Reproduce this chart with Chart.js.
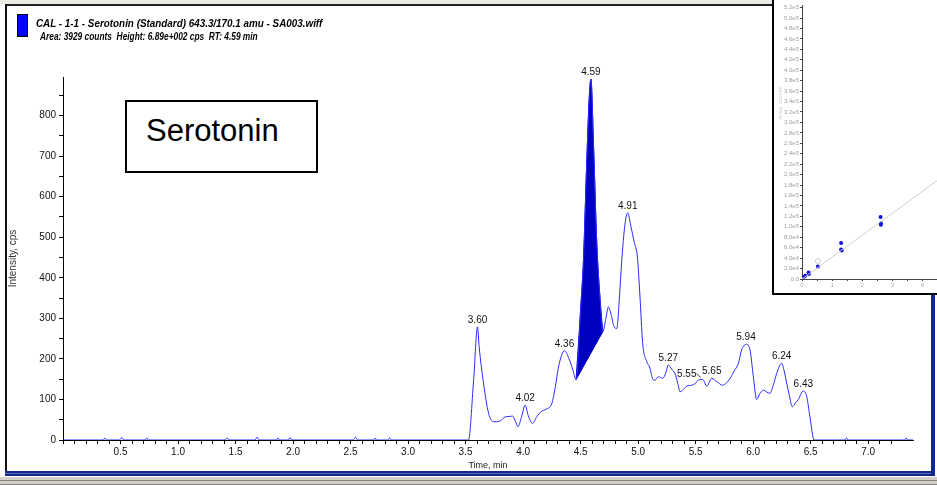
<!DOCTYPE html>
<html>
<head>
<meta charset="utf-8">
<script src="https://cdn.jsdelivr.net/npm/chart.js@4.4.1/dist/chart.umd.min.js"></script>
<style>
html, body { margin: 0; padding: 0; background: #fff; }
#page { position: relative; width: 937px; height: 485px; overflow: hidden; background: #fff; font-family: Arial, 'Liberation Sans', sans-serif; }
.abs { position: absolute; }
#topStrip { left: 0; top: 0; width: 772px; height: 4px; background: #ecebe3; }
#topLine { left: 5px; top: 4px; width: 767px; height: 2px; background: #222; }
#leftLine { left: 5px; top: 4px; width: 2px; height: 472px; background: #111; }
#bottomNavy { left: 5px; top: 471px; width: 930px; height: 5px; background: #14288a; }
#bottomNavy2 { left: 5px; top: 473px; width: 930px; height: 1px; background: #5a6cc0; }
#rightNavy { left: 931px; top: 295px; width: 4px; height: 181px; background: #14288a; }
#bottomGray { left: 0; top: 476px; width: 937px; height: 9px; background: linear-gradient(#ffffff 0 1px, #d4d0c8 1px 4px, #808080 4px 5px, #d4d0c8 5px 8px, #808080 8px); }
#mainCanvas { left: 0; top: 0; }
#legendBox { left: 17px; top: 14px; width: 9px; height: 21px; background: #0000ff; border: 1px solid #000; }
.hdr { left: 36px; font-weight: bold; font-style: italic; font-size: 11px; line-height: 11px; white-space: pre; color: #000; transform-origin: 0 0; }
#sero { left: 125px; top: 100px; width: 193px; height: 73px; border: 2px solid #000; box-sizing: border-box; background: #fff; }
#sero span { position: absolute; left: 19px; top: 13px; font-size: 31px; line-height: 31px; color: #000; }
#inset { left: 772px; top: 0; width: 165px; height: 295px; background: #fff; border-left: 2px solid #000; border-bottom: 2px solid #000; box-sizing: border-box; overflow: hidden; z-index: 5; }
#insetCanvas { left: 0; top: 0; }
#insetTitle { left: -22px; top: 100px; width: 56px; font-size: 6px; color: #cfcfcf; transform: rotate(-90deg); text-align: center; }
</style>
</head>
<body>
<div id="page">
  <div class="abs" id="topStrip"></div>
  <div class="abs" id="topLine"></div>
  <div class="abs" id="leftLine"></div>
  <div class="abs" id="bottomNavy"></div>
  <div class="abs" id="bottomNavy2"></div>
  <div class="abs" id="rightNavy"></div>
  <div class="abs" id="bottomGray"></div>
  <canvas class="abs" id="mainCanvas" width="937" height="485"></canvas>
  <div class="abs" id="legendBox"></div>
  <div class="abs hdr" id="hdr1" style="top:18px">CAL - 1-1 - Serotonin (Standard) 643.3/170.1 amu - SA003.wiff</div>
  <div class="abs hdr" id="hdr2" style="top:31px; left:40px">Area: 3929 counts  Height: 6.89e+002 cps  RT: 4.59 min</div>
  <div class="abs" id="sero"><span>Serotonin</span></div>
  <div class="abs" id="inset">
    <canvas class="abs" id="insetCanvas" width="185" height="293"></canvas>
    <div class="abs" id="insetTitle">Area, counts</div>
  </div>
</div>
<script>
// XIC trace, time in min / intensity in cps
const times = [
  0, 0.35, 0.365, 0.38, 0.49, 0.51, 0.53, 0.715, 0.728, 0.74,
  1.41, 1.428, 1.445, 1.67, 1.687, 1.705, 1.855, 1.869, 1.88, 1.96, 1.973, 1.99,
  2.525, 2.543, 2.56, 2.70, 2.714, 2.725, 2.825, 2.839, 2.855,
  3.525, 3.57, 3.604, 3.618, 3.656, 3.70, 3.743, 3.77, 3.80, 3.845, 3.88, 3.908, 3.935, 3.955, 3.985,
  4.018, 4.045, 4.082, 4.12, 4.157, 4.20, 4.25, 4.28, 4.308, 4.36, 4.40, 4.43, 4.461, 4.50, 4.525,
  4.554, 4.577, 4.59, 4.612, 4.641, 4.67, 4.693, 4.72, 4.742, 4.765, 4.79, 4.815, 4.835, 4.858,
  4.885, 4.91, 4.935, 4.966, 4.994, 5.015, 5.04, 5.076, 5.10, 5.133, 5.15, 5.176, 5.214, 5.24,
  5.263, 5.29, 5.32, 5.345, 5.365, 5.395, 5.423, 5.467, 5.50, 5.524, 5.562, 5.597, 5.64, 5.684,
  5.736, 5.765, 5.793, 5.835, 5.872, 5.90, 5.938, 5.973, 6.002, 6.031, 6.06, 6.089, 6.12, 6.147,
  6.175, 6.205, 6.248, 6.27, 6.292, 6.315, 6.34, 6.365, 6.393, 6.436, 6.466, 6.494, 6.53,
  6.80, 6.812, 6.825, 7.32, 7.331, 7.345, 7.39
];
const intensities = [
  0, 0, 5, 0, 0, 6, 0, 0, 5, 0,
  0, 5, 0, 0, 7, 0, 0, 5, 0, 0, 6, 0,
  0, 7, 0, 0, 5, 0, 0, 5, 0,
  0, 148, 279, 230, 140, 66, 45, 45, 47, 57, 58, 59, 45, 33, 55,
  86, 60, 41, 58, 70, 76, 90, 130, 180, 220, 200, 175, 149, 320, 443,
  690, 854, 890, 731, 484, 345, 267, 300, 328, 310, 280, 275, 340, 443,
  530, 560, 530, 488, 451, 360, 238, 193, 180, 148, 148, 156, 152, 165,
  185, 175, 164, 140, 119, 125, 133, 135, 140, 148, 149, 133, 152, 144,
  135, 140, 149, 170, 189, 222, 236, 222, 156, 100, 115, 123, 118, 115,
  135, 164, 189, 170, 140, 110, 82, 90, 100, 121, 107, 57, 0,
  0, 5, 0, 0, 5, 0, 0
];

// integrated peak (RT 4.59) start / end
const peakStart = 4.461;
const peakEnd = 4.693;

// apex labels
const peakLabels = ['3.60', '4.02', '4.36', '4.59', '4.91', '5.27', '5.55', '5.65', '5.94', '6.24', '6.43'];

// axes
const xMin = 0, xMax = 7.39, xMinorStep = 0.1, xMajorStep = 0.5;
const yMin = 0, yMax = 895, yMinorStep = 50, yMajorStep = 100;

// calibration inset
const calConc = [0.067, 0.11, 0.22, 0.23, 0.53, 1.30, 1.30, 1.32, 2.61, 2.62, 2.62];
const calArea = [4300, 6200, 12500, 9400, 23800, 69000, 56600, 54700, 119000, 107000, 104000];
const excludedConc = [0.53];
const excludedArea = [34500];
const fitConc = [0, 5.05];
const fitArea = [0, 212000];
const calXTicks = [0, 0.5, 1, 1.5, 2, 2.5, 3, 3.5, 4, 4.5, 5];
const calYTicks = [0, 20000, 40000, 60000, 80000, 100000, 120000, 140000, 160000, 180000, 200000, 220000, 240000,
    260000, 280000, 300000, 320000, 340000, 360000, 380000, 400000, 420000, 440000, 460000, 480000, 500000, 520000];

const FONT = "Arial, 'Liberation Sans', sans-serif";

function nearestIndex(t) {
    let best = 0;
    for (let i = 1; i < times.length; i++) {
        if (Math.abs(times[i] - t) < Math.abs(times[best] - t)) best = i;
    }
    return best;
}
function isMultiple(v, step) {
    const r = v / step;
    return Math.abs(r - Math.round(r)) < 1e-6;
}

const trace = times.map((t, i) => ({ x: t, y: intensities[i] }));
const peakArea = trace.filter(p => p.x >= peakStart - 1e-9 && p.x <= peakEnd + 1e-9);
const peakBase = [trace[nearestIndex(peakStart)], trace[nearestIndex(peakEnd)]];

// draws RT labels above each apex
const peakLabelPlugin = {
    id: 'peakLabels',
    afterDatasetsDraw(chart) {
        const { ctx, scales: { x, y } } = chart;
        ctx.save();
        ctx.font = '10px ' + FONT;
        ctx.fillStyle = '#111';
        ctx.textAlign = 'center';
        ctx.textBaseline = 'alphabetic';
        peakLabels.forEach(lbl => {
            const i = nearestIndex(parseFloat(lbl));
            const px = x.getPixelForValue(times[i]);
            const py = y.getPixelForValue(intensities[i]);
            if (lbl === '5.55') {
                // crowded label, pushed left with a short leader
                ctx.fillText(lbl, px - 16, py - 3);
                ctx.strokeStyle = '#333';
                ctx.lineWidth = 1;
                ctx.beginPath();
                ctx.moveTo(px - 6, py - 6);
                ctx.lineTo(px - 2, py - 2);
                ctx.stroke();
            } else {
                ctx.fillText(lbl, px, py - 4);
            }
        });
        ctx.restore();
    }
};

const mainChart = new Chart(document.getElementById('mainCanvas'), {
    type: 'line',
    data: {
        datasets: [
            { data: trace, borderColor: '#2a2aff', borderWidth: 1, fill: false, cubicInterpolationMode: 'monotone' },
            { data: peakArea, borderColor: '#0000c0', borderWidth: 1, backgroundColor: '#0000c0', fill: '+1', cubicInterpolationMode: 'monotone' },
            { data: peakBase, borderColor: '#0000c0', borderWidth: 1, fill: false }
        ]
    },
    options: {
        responsive: false,
        animation: false,
        events: [],
        layout: { padding: { left: 8, right: 24, top: 77, bottom: 10 } },
        elements: { point: { radius: 0 }, line: { tension: 0 } },
        plugins: { legend: { display: false }, tooltip: { enabled: false } },
        scales: {
            x: {
                type: 'linear', min: xMin, max: xMax, z: 1,
                afterFit: s => { s.height = 35; },
                border: { color: '#000', width: 1 },
                grid: {
                    drawOnChartArea: false, tickLength: 4,
                    color: c => (c.tick && isMultiple(c.tick.value, xMinorStep)) ? '#000' : 'rgba(0,0,0,0)'
                },
                ticks: {
                    stepSize: xMinorStep, autoSkip: false, maxRotation: 0, minRotation: 0, padding: 2,
                    color: '#111', font: { size: 10, family: FONT },
                    callback: v => (v > 0 && isMultiple(v, xMajorStep)) ? v.toFixed(1) : ''
                },
                title: { display: true, text: 'Time, min', color: '#222', font: { size: 9, family: FONT }, padding: { top: 0, bottom: 4 } }
            },
            y: {
                type: 'linear', min: yMin, max: yMax, z: 1,
                afterFit: s => { s.width = 55; },
                border: { color: '#000', width: 1 },
                grid: {
                    drawOnChartArea: false, tickLength: 4,
                    color: c => (c.tick && isMultiple(c.tick.value, yMinorStep)) ? '#000' : 'rgba(0,0,0,0)'
                },
                ticks: {
                    stepSize: yMinorStep, autoSkip: false, padding: 3,
                    color: '#111', font: { size: 10, family: FONT },
                    callback: v => isMultiple(v, yMajorStep) ? String(v) : ''
                },
                title: { display: true, text: 'Intensity, cps', color: '#333', font: { size: 10, family: FONT, lineHeight: 1 }, padding: { top: 0, bottom: 0 } }
            }
        }
    },
    plugins: [peakLabelPlugin]
});

function sci(v) {
    if (v === 0) return '0.0';
    const e = Math.floor(Math.log10(v) + 1e-9);
    return (v / Math.pow(10, e)).toFixed(1) + 'e' + e;
}

const insetChart = new Chart(document.getElementById('insetCanvas'), {
    type: 'scatter',
    data: {
        datasets: [
            { data: fitConc.map((c, i) => ({ x: c, y: fitArea[i] })), showLine: true, borderColor: '#d0d0d0', borderWidth: 1, pointRadius: 0 },
            { data: excludedConc.map((c, i) => ({ x: c, y: excludedArea[i] })), pointRadius: 2.5, pointBorderColor: '#cfcfcf', pointBackgroundColor: 'rgba(0,0,0,0)', pointBorderWidth: 1 },
            { data: calConc.map((c, i) => ({ x: c, y: calArea[i] })), pointRadius: 2, pointBackgroundColor: '#1010e0', pointBorderColor: '#1010e0', pointBorderWidth: 0 }
        ]
    },
    options: {
        responsive: false,
        animation: false,
        events: [],
        layout: { padding: { left: 2, right: 0, top: 0, bottom: 0 } },
        plugins: { legend: { display: false }, tooltip: { enabled: false } },
        scales: {
            x: {
                type: 'linear', min: 0, max: 5.05,
                afterFit: s => { s.height = 14; },
                afterBuildTicks: s => { s.ticks = calXTicks.map(v => ({ value: v })); },
                border: { color: '#444', width: 1, dash: [1, 2] },
                grid: { drawOnChartArea: false, tickLength: 2, color: '#444' },
                ticks: { autoSkip: false, maxRotation: 0, padding: 1, color: '#a8a8a8', font: { size: 6, family: FONT },
                    callback: v => isMultiple(v, 1) ? String(v) : '' }
            },
            y: {
                type: 'linear', min: 0, max: 525000,
                afterFit: s => { s.width = 26; },
                afterBuildTicks: s => { s.ticks = calYTicks.map(v => ({ value: v })); },
                border: { color: '#444', width: 1, dash: [1, 2] },
                grid: { drawOnChartArea: false, tickLength: 2, color: '#444' },
                ticks: { autoSkip: false, padding: 1, color: '#a0a0a0', font: { size: 6, family: FONT },
                    callback: v => sci(v) }
            }
        }
    }
});

// squeeze the header lines to the narrow face of the original
[['hdr1', 286], ['hdr2', 218]].forEach(([id, w]) => {
    const el = document.getElementById(id);
    el.style.transform = 'scaleX(' + (w / el.offsetWidth) + ')';
});
</script>
</body>
</html>
